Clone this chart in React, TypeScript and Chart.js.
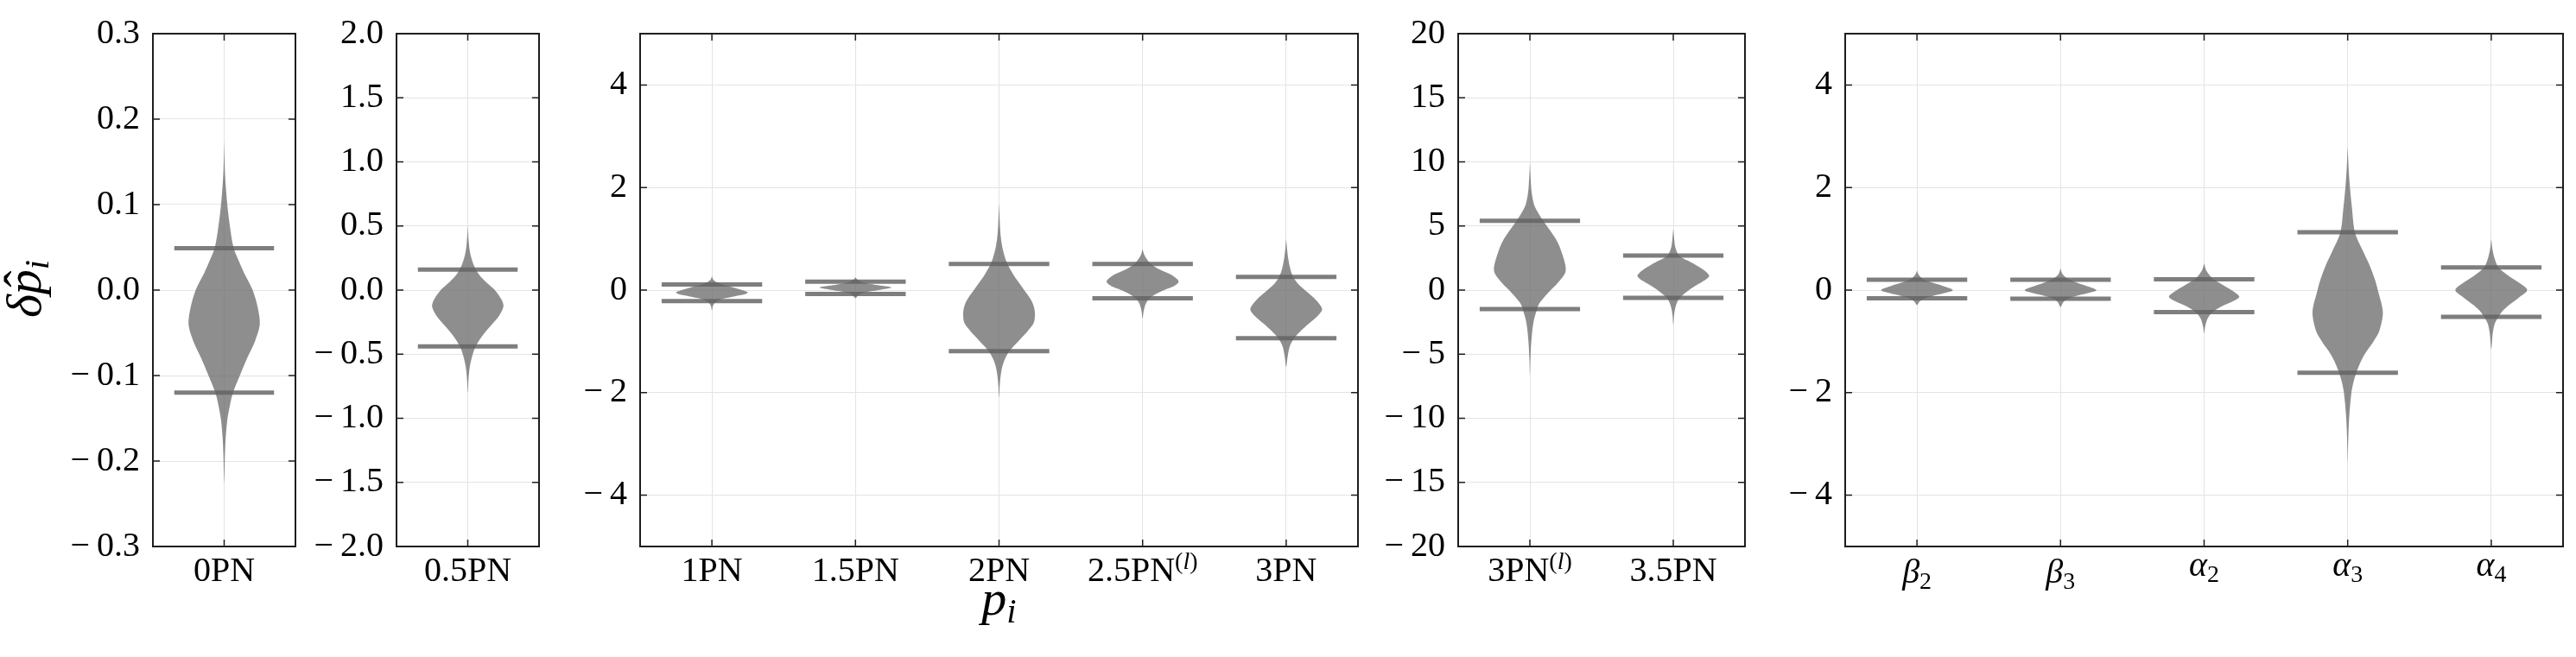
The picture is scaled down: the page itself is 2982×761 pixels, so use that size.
import React, { useEffect, useRef } from "react";
import { Chart, registerables } from "chart.js";

Chart.register(...registerables);

const SERIF = "'Liberation Serif', 'Times New Roman', 'DejaVu Serif', serif";

// ---------- categories (tick labels); "^(..)" = superscript, "_x" = subscript ----------
const CATS_0PN = ["0PN"];
const CATS_05PN = ["0.5PN"];
const CATS_PN = ["1PN", "1.5PN", "2PN", "2.5PN^(l)", "3PN"];
const CATS_HIGH = ["3PN^(l)", "3.5PN"];
const CATS_NONGR = ["β_2", "β_3", "α_2", "α_3", "α_4"];

// ---------- y ticks ----------
const YTICKS_0PN = [-0.3, -0.2, -0.1, 0, 0.1, 0.2, 0.3];
const YTICKS_05PN = [-2, -1.5, -1, -0.5, 0, 0.5, 1, 1.5, 2];
const YTICKS_PN = [-4, -2, 0, 2, 4];
const YTICKS_HIGH = [-20, -15, -10, -5, 0, 5, 10, 15, 20];
const YTICKS_NONGR = [-4, -2, 0, 2, 4];

// ---------- y ranges ----------
const YRANGE_0PN = [-0.3, 0.3];
const YRANGE_05PN = [-2, 2];
const YRANGE_PN = [-5, 5];
const YRANGE_HIGH = [-20, 20];
const YRANGE_NONGR = [-5, 5];

// ---------- upper / lower bars ----------
const UPPER_0PN = [0.049];
const LOWER_0PN = [-0.12];
const UPPER_05PN = [0.16];
const LOWER_05PN = [-0.44];
const UPPER_PN = [0.11, 0.166, 0.51, 0.51, 0.255];
const LOWER_PN = [-0.215, -0.077, -1.19, -0.16, -0.94];
const UPPER_HIGH = [5.4, 2.7];
const LOWER_HIGH = [-1.48, -0.6];
const UPPER_NONGR = [0.2, 0.2, 0.21, 1.13, 0.44];
const LOWER_NONGR = [-0.16, -0.17, -0.43, -1.61, -0.52];

// ---------- violin profiles: [value, half-width (category units)] top -> bottom ----------
const VIOLIN_0PN = [[0.175, 0], [0.15, 0.003], [0.13, 0.008], [0.1, 0.022], [0.075, 0.04], [0.05, 0.065], [0.035, 0.1], [0.02, 0.14], [0.0, 0.2], [-0.02, 0.235], [-0.04, 0.25], [-0.06, 0.216], [-0.08, 0.16], [-0.1, 0.11], [-0.12, 0.062], [-0.135, 0.04], [-0.152, 0.022], [-0.175, 0.01], [-0.2, 0.004], [-0.225, 0]];
const VIOLIN_05PN = [[0.5, 0], [0.4, 0.005], [0.3, 0.015], [0.2, 0.04], [0.12, 0.08], [0.05, 0.14], [0.0, 0.19], [-0.08, 0.24], [-0.13, 0.25], [-0.2, 0.22], [-0.28, 0.16], [-0.36, 0.1], [-0.44, 0.055], [-0.52, 0.03], [-0.6, 0.014], [-0.7, 0.005], [-0.8, 0]];
const VIOLIN_1PN = [[0.27, 0], [0.2, 0.01], [0.15, 0.035], [0.1, 0.08], [0.05, 0.15], [0.0, 0.21], [-0.045, 0.25], [-0.08, 0.23], [-0.12, 0.16], [-0.16, 0.09], [-0.2, 0.045], [-0.25, 0.02], [-0.32, 0.006], [-0.4, 0]];
const VIOLIN_15PN = [[0.25, 0], [0.2, 0.015], [0.15, 0.05], [0.1, 0.14], [0.05, 0.25], [0.0, 0.16], [-0.05, 0.06], [-0.1, 0.02], [-0.16, 0]];
const VIOLIN_2PN = [[1.7, 0], [1.4, 0.004], [1.1, 0.01], [0.85, 0.022], [0.65, 0.04], [0.5, 0.06], [0.3, 0.1], [0.1, 0.15], [0.0, 0.175], [-0.2, 0.225], [-0.35, 0.245], [-0.5, 0.25], [-0.65, 0.24], [-0.8, 0.2], [-0.95, 0.15], [-1.1, 0.1], [-1.2, 0.07], [-1.35, 0.04], [-1.5, 0.022], [-1.7, 0.01], [-1.9, 0.004], [-2.1, 0]];
const VIOLIN_25PN = [[0.8, 0], [0.7, 0.01], [0.6, 0.03], [0.5, 0.06], [0.4, 0.12], [0.3, 0.2], [0.2, 0.245], [0.15, 0.25], [0.08, 0.22], [0.0, 0.15], [-0.08, 0.09], [-0.16, 0.05], [-0.25, 0.025], [-0.4, 0.008], [-0.55, 0]];
const VIOLIN_3PN = [[1.0, 0], [0.8, 0.006], [0.6, 0.015], [0.4, 0.03], [0.25, 0.05], [0.1, 0.09], [0.0, 0.13], [-0.2, 0.21], [-0.37, 0.25], [-0.5, 0.22], [-0.65, 0.16], [-0.8, 0.1], [-0.94, 0.055], [-1.1, 0.025], [-1.3, 0.01], [-1.5, 0]];
const VIOLIN_3PNL = [[9.9, 0], [8.5, 0.006], [7.5, 0.014], [6.5, 0.035], [5.4, 0.093], [4.0, 0.18], [3.0, 0.22], [1.5, 0.25], [0.5, 0.19], [0.0, 0.145], [-1.0, 0.068], [-1.5, 0.05], [-2.5, 0.025], [-4.0, 0.01], [-5.5, 0.003], [-6.6, 0]];
const VIOLIN_35PN = [[4.8, 0], [4.0, 0.006], [3.3, 0.015], [2.7, 0.04], [2.3, 0.1], [2.0, 0.15], [1.5, 0.22], [1.1, 0.25], [0.7, 0.21], [0.3, 0.15], [0.0, 0.11], [-0.3, 0.075], [-0.6, 0.045], [-1.0, 0.025], [-1.5, 0.012], [-2.0, 0.005], [-2.7, 0]];
const VIOLIN_B2 = [[0.38, 0], [0.3, 0.012], [0.22, 0.04], [0.15, 0.1], [0.08, 0.18], [0.0, 0.25], [-0.06, 0.19], [-0.12, 0.1], [-0.16, 0.055], [-0.22, 0.02], [-0.29, 0]];
const VIOLIN_B3 = [[0.42, 0], [0.32, 0.012], [0.24, 0.04], [0.16, 0.1], [0.08, 0.18], [0.0, 0.25], [-0.06, 0.19], [-0.12, 0.1], [-0.17, 0.05], [-0.24, 0.018], [-0.33, 0]];
const VIOLIN_A2 = [[0.52, 0], [0.4, 0.012], [0.3, 0.035], [0.2, 0.07], [0.1, 0.13], [0.0, 0.19], [-0.13, 0.245], [-0.22, 0.2], [-0.32, 0.12], [-0.43, 0.06], [-0.55, 0.025], [-0.7, 0.008], [-0.84, 0]];
const VIOLIN_A3 = [[2.8, 0], [2.4, 0.006], [2.0, 0.016], [1.6, 0.03], [1.13, 0.05], [0.8, 0.1], [0.5, 0.15], [0.2, 0.19], [0.0, 0.21], [-0.43, 0.245], [-0.8, 0.22], [-1.0, 0.18], [-1.2, 0.13], [-1.4, 0.09], [-1.61, 0.06], [-1.8, 0.04], [-2.0, 0.026], [-2.5, 0.01], [-3.0, 0.003], [-3.35, 0]];
const VIOLIN_A4 = [[1.0, 0], [0.8, 0.008], [0.6, 0.025], [0.44, 0.05], [0.3, 0.11], [0.15, 0.19], [0.0, 0.25], [-0.15, 0.19], [-0.3, 0.12], [-0.42, 0.075], [-0.52, 0.05], [-0.65, 0.025], [-0.85, 0.01], [-1.15, 0]];

// ---------- styling ----------
const H = 761;
const PAD_TOP = 33;
const PAD_BOTTOM = 128;
const PAD_RIGHT = 14;
const TICK_FONT = 40;
const AXIS_FONT = 58;
const LABEL_TOP = 647;
const BAR_HALF = 0.35;
const VIOLIN_FILL = "rgba(110,110,110,0.78)";
const BAR_COLOR = "rgba(100,100,100,0.83)";
const GRID_COLOR = "#e4e4e4";
const FRAME_COLOR = "#1e1e1e";

type Panel = {
  cats: string[];
  yticks: number[];
  yrange: number[];
  dec: number;
  upper: number[];
  lower: number[];
  violins: number[][][];
  left: number;
  right: number;
  axisW: number;
};

const PANELS: Panel[] = [
  { cats: CATS_0PN, yticks: YTICKS_0PN, yrange: YRANGE_0PN, dec: 1, upper: UPPER_0PN, lower: LOWER_0PN, violins: [VIOLIN_0PN], left: 177, right: 342, axisW: 177 },
  { cats: CATS_05PN, yticks: YTICKS_05PN, yrange: YRANGE_05PN, dec: 1, upper: UPPER_05PN, lower: LOWER_05PN, violins: [VIOLIN_05PN], left: 459, right: 624, axisW: 120 },
  { cats: CATS_PN, yticks: YTICKS_PN, yrange: YRANGE_PN, dec: 0, upper: UPPER_PN, lower: LOWER_PN, violins: [VIOLIN_1PN, VIOLIN_15PN, VIOLIN_2PN, VIOLIN_25PN, VIOLIN_3PN], left: 741, right: 1572, axisW: 120 },
  { cats: CATS_HIGH, yticks: YTICKS_HIGH, yrange: YRANGE_HIGH, dec: 0, upper: UPPER_HIGH, lower: LOWER_HIGH, violins: [VIOLIN_3PNL, VIOLIN_35PN], left: 1688, right: 2020, axisW: 120 },
  { cats: CATS_NONGR, yticks: YTICKS_NONGR, yrange: YRANGE_NONGR, dec: 0, upper: UPPER_NONGR, lower: LOWER_NONGR, violins: [VIOLIN_B2, VIOLIN_B3, VIOLIN_A2, VIOLIN_A3, VIOLIN_A4], left: 2136, right: 2967, axisW: 120 },
];

function fmtTick(v: number, dec: number) {
  return (v < 0 ? "\u2212\u2009" : "") + Math.abs(v).toFixed(dec);
}

function font(size: number, italic: boolean) {
  return `${italic ? "italic " : ""}${size}px ${SERIF}`;
}

type Part = { text: string; size: number; italic: boolean; dy: number; isBase: boolean };

function labelParts(s: string): Part[] {
  const sup = s.match(/^(.*)\^\((.*)\)$/);
  const ss = TICK_FONT * 0.7;
  if (sup) {
    return [
      { text: sup[1], size: TICK_FONT, italic: false, dy: 0, isBase: true },
      { text: "(", size: ss, italic: false, dy: -14, isBase: false },
      { text: sup[2], size: ss, italic: true, dy: -14, isBase: false },
      { text: ")", size: ss, italic: false, dy: -14, isBase: false },
    ];
  }
  const sub = s.match(/^(.*)_(.*)$/);
  if (sub) {
    return [
      { text: sub[1], size: TICK_FONT, italic: true, dy: 0, isBase: true },
      { text: sub[2], size: ss, italic: false, dy: 7, isBase: false },
    ];
  }
  return [{ text: s, size: TICK_FONT, italic: false, dy: 0, isBase: true }];
}

function drawParts(ctx: CanvasRenderingContext2D, parts: Part[], cx: number, baseline: number) {
  let total = 0;
  const widths = parts.map((p) => {
    ctx.font = font(p.size, p.italic);
    const w = ctx.measureText(p.text).width;
    total += w;
    return w;
  });
  let x = cx - total / 2;
  ctx.textAlign = "left";
  ctx.textBaseline = "alphabetic";
  parts.forEach((p, i) => {
    ctx.font = font(p.size, p.italic);
    ctx.fillText(p.text, x, baseline + p.dy);
    x += widths[i];
  });
}

function drawTickLabel(ctx: CanvasRenderingContext2D, s: string, cx: number) {
  const parts = labelParts(s);
  let asc = 0;
  parts.forEach((p) => {
    if (!p.isBase) return;
    ctx.font = font(p.size, p.italic);
    asc = Math.max(asc, ctx.measureText(p.text).actualBoundingBoxAscent);
  });
  drawParts(ctx, parts, cx, LABEL_TOP + asc);
}

function drawYAxisLabel(ctx: CanvasRenderingContext2D, bx: number, cy: number) {
  ctx.save();
  ctx.translate(bx, cy);
  ctx.rotate(-Math.PI / 2);
  ctx.fillStyle = "#000";
  const S = AXIS_FONT;
  const parts: Part[] = [
    { text: "δ", size: S, italic: true, dy: 0, isBase: true },
    { text: "p", size: S, italic: true, dy: 0, isBase: true },
    { text: "i", size: S * 0.7, italic: true, dy: S * 0.16, isBase: false },
  ];
  let total = 0;
  const widths = parts.map((p) => {
    ctx.font = font(p.size, p.italic);
    const w = ctx.measureText(p.text).width;
    total += w;
    return w;
  });
  let x = -total / 2;
  ctx.textBaseline = "alphabetic";
  ctx.textAlign = "left";
  parts.forEach((p, i) => {
    ctx.font = font(p.size, p.italic);
    ctx.fillText(p.text, x, p.dy);
    if (p.text === "p") {
      ctx.font = font(S, false);
      ctx.textAlign = "center";
      ctx.fillText("\u02C6", x + widths[i] / 2 + S * 0.06, -3);
      ctx.textAlign = "left";
    }
    x += widths[i];
  });
  ctx.restore();
}

function drawXAxisLabel(ctx: CanvasRenderingContext2D, cx: number, baseline: number) {
  ctx.fillStyle = "#000";
  const S = AXIS_FONT;
  drawParts(
    ctx,
    [
      { text: "p", size: S, italic: true, dy: 0, isBase: true },
      { text: "i", size: S * 0.7, italic: true, dy: S * 0.16, isBase: false },
    ],
    cx,
    baseline
  );
}

function makeFramePlugin(p: Panel, idx: number) {
  return {
    id: "frame" + idx,
    afterDraw(chart: any) {
      const { ctx, chartArea: a, scales } = chart;
      const xs = scales.x;
      const ys = scales.y;
      ctx.save();
      // inward ticks
      ctx.strokeStyle = FRAME_COLOR;
      ctx.lineWidth = 1.5;
      ctx.beginPath();
      p.yticks.forEach((v) => {
        const py = ys.getPixelForValue(v);
        ctx.moveTo(a.left, py);
        ctx.lineTo(a.left + 8, py);
        ctx.moveTo(a.right, py);
        ctx.lineTo(a.right - 8, py);
      });
      p.cats.forEach((_, i) => {
        const px = xs.getPixelForValue(i);
        ctx.moveTo(px, a.bottom);
        ctx.lineTo(px, a.bottom - 8);
        ctx.moveTo(px, a.top);
        ctx.lineTo(px, a.top + 8);
      });
      ctx.stroke();
      // frame
      ctx.lineWidth = 2;
      ctx.strokeRect(a.left, a.top, a.right - a.left, a.bottom - a.top);
      // category labels
      ctx.fillStyle = "#000";
      p.cats.forEach((c, i) => drawTickLabel(ctx, c, xs.getPixelForValue(i)));
      if (idx === 0) drawYAxisLabel(ctx, 47, (a.top + a.bottom) / 2 - 1.5);
      if (idx === 2) drawXAxisLabel(ctx, (a.left + a.right) / 2, 712);
      ctx.restore();
    },
  };
}

function violinPoints(prof: number[][], c: number) {
  const right = prof.map(([y, w]) => ({ x: c + w, y }));
  const left = prof
    .slice(0, -1)
    .reverse()
    .map(([y, w]) => ({ x: c - w, y }));
  return right.concat(left);
}

function buildConfig(p: Panel, idx: number): any {
  const datasets: any[] = [];
  p.cats.forEach((_, i) => {
    [p.upper[i], p.lower[i]].forEach((v) => {
      datasets.push({
        data: [
          { x: i - BAR_HALF, y: v },
          { x: i + BAR_HALF, y: v },
        ],
        showLine: true,
        fill: false,
        borderColor: BAR_COLOR,
        borderWidth: 5,
        borderCapStyle: "butt",
        pointRadius: 0,
      });
    });
  });
  p.violins.forEach((prof, i) => {
    datasets.push({
      data: violinPoints(prof, i),
      showLine: true,
      fill: "shape",
      backgroundColor: VIOLIN_FILL,
      borderColor: "rgba(0,0,0,0)",
      borderWidth: 0,
      pointRadius: 0,
      tension: 0.3,
    });
  });
  return {
    type: "scatter",
    data: { datasets },
    options: {
      responsive: false,
      maintainAspectRatio: false,
      animation: false,
      devicePixelRatio: 1,
      events: [],
      layout: { padding: { top: PAD_TOP, bottom: PAD_BOTTOM, left: 0, right: PAD_RIGHT } },
      plugins: { legend: { display: false }, tooltip: { enabled: false }, title: { display: false } },
      scales: {
        x: {
          type: "linear",
          min: -0.5,
          max: p.cats.length - 0.5,
          afterBuildTicks: (s: any) => {
            s.ticks = p.cats.map((_, i) => ({ value: i }));
          },
          afterFit: (s: any) => {
            s.height = 0;
          },
          ticks: { display: false },
          grid: { color: GRID_COLOR, lineWidth: 1, drawTicks: false },
          border: { display: false },
        },
        y: {
          type: "linear",
          min: p.yrange[0],
          max: p.yrange[1],
          afterBuildTicks: (s: any) => {
            s.ticks = p.yticks.map((v) => ({ value: v }));
          },
          afterFit: (s: any) => {
            s.width = p.axisW;
          },
          ticks: {
            color: "#000",
            padding: 15,
            font: { family: SERIF, size: TICK_FONT },
            callback: (v: number) => fmtTick(v, p.dec),
          },
          grid: { color: GRID_COLOR, lineWidth: 1, drawTicks: false },
          border: { display: false },
        },
      },
    },
    plugins: [makeFramePlugin(p, idx)],
  };
}

function PanelChart({ p, idx }: { p: Panel; idx: number }) {
  const ref = useRef<HTMLCanvasElement>(null);
  const width = p.axisW + (p.right - p.left) + PAD_RIGHT;
  useEffect(() => {
    const chart = new Chart(ref.current as HTMLCanvasElement, buildConfig(p, idx));
    return () => chart.destroy();
  }, [p, idx]);
  return (
    <canvas
      ref={ref}
      width={width}
      height={H}
      style={{ position: "absolute", left: p.left - p.axisW, top: 0, width, height: H }}
    />
  );
}

export default function App() {
  return (
    <div style={{ position: "fixed", left: 0, top: 0, width: 2982, height: H, background: "#fff", overflow: "hidden" }}>
      {PANELS.map((p, i) => (
        <PanelChart key={i} p={p} idx={i} />
      ))}
    </div>
  );
}
